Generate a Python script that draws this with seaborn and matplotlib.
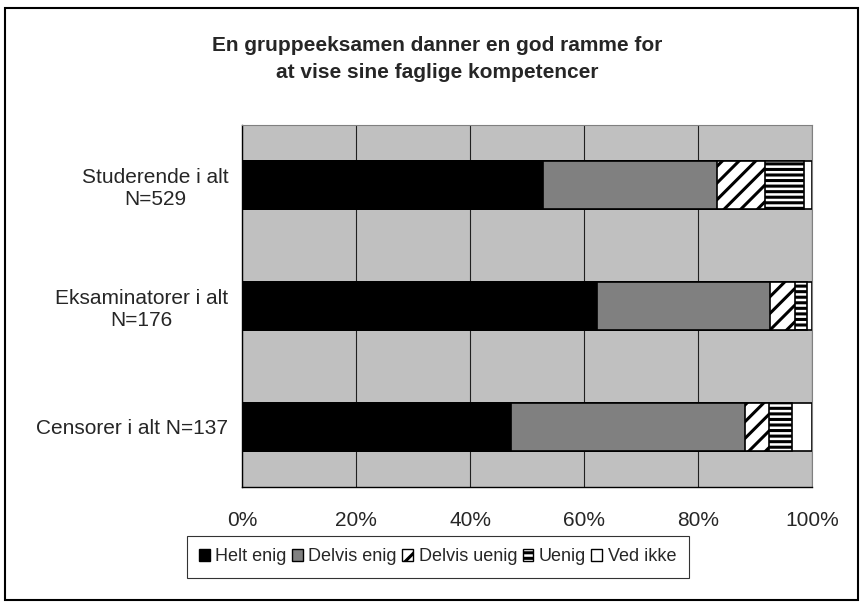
import numpy as np
import pandas as pd
import matplotlib
matplotlib.use('Agg')
import matplotlib.pyplot as plt
from matplotlib.patches import Patch, Rectangle
import seaborn as sns

groups = ['Studerende i alt\nN=529', 'Eksaminatorer i alt\nN=176', 'Censorer i alt N=137']
answers = ['Helt enig', 'Delvis enig', 'Delvis uenig', 'Uenig', 'Ved ikke']
helt_enig = [52.8, 62.2, 47.2]
delvis_enig = [30.6, 30.4, 41.1]
delvis_uenig = [8.4, 4.5, 4.2]
uenig = [6.8, 2.0, 4.0]
ved_ikke = [1.4, 0.9, 3.5]
xticks = [0, 20, 40, 60, 80, 100]

colors = ['black', '#808080', 'white', 'white', 'white']
hatches = ['', '', '//', '---', '']

sns.set_style('white')
plt.rcParams['font.family'] = ['Liberation Sans', 'DejaVu Sans']
plt.rcParams['hatch.linewidth'] = 2.2
plt.rcParams['hatch.color'] = 'black'

df = pd.DataFrame({'group': groups, 'Helt enig': helt_enig, 'Delvis enig': delvis_enig,
                   'Delvis uenig': delvis_uenig, 'Uenig': uenig, 'Ved ikke': ved_ikke})
cum = df[answers].cumsum(axis=1)

fig = plt.figure(figsize=(8.65, 6.08), dpi=100)
ax = fig.add_axes([0.2798, 0.199, 0.6589, 0.5954])
ax.set_facecolor('#C0C0C0')

# draw cumulative totals from the back so each segment shows
for i in range(len(answers) - 1, -1, -1):
    sns.barplot(x=cum[answers[i]], y=df['group'], orient='h', ax=ax, color=colors[i],
                saturation=1, width=0.4, edgecolor='black', linewidth=1.2,
                hatch=hatches[i], zorder=3)

ax.set_xlim(0, 100)
ax.set_ylim(2.5, -0.5)
ax.set_xticks(xticks)
ax.set_xticklabels([f'{v}%' for v in xticks], fontsize=15)
ax.set_xlabel('')
ax.set_ylabel('')
ax.tick_params(axis='y', length=0, labelsize=15, pad=10)
ax.set_yticks([-0.5, 0.5, 1.5, 2.5], minor=True)
ax.tick_params(axis='y', which='minor', length=5, width=1, color='black', direction='out')
ax.tick_params(axis='x', length=5, width=1, color='black', direction='out', pad=12)
for lab in ax.get_yticklabels():
    lab.set_multialignment('center')
ax.xaxis.grid(True, color='#202020', linewidth=0.8, zorder=0)
ax.set_axisbelow(True)
for s in ['top', 'right']:
    ax.spines[s].set_color('#808080')
for s in ['left', 'bottom']:
    ax.spines[s].set_color('black')
    ax.spines[s].set_linewidth(1)

fig.text(0.505, 0.903, 'En gruppeeksamen danner en god ramme for\nat vise sine faglige kompetencer',
         ha='center', va='center', fontsize=15, fontweight='bold', linespacing=1.5)

handles = [Patch(facecolor=colors[i], edgecolor='black', hatch=hatches[i], label=answers[i])
           for i in range(len(answers))]
leg = fig.legend(handles=handles, loc='center', bbox_to_anchor=(0.506, 0.084), ncol=5,
                 fontsize=13, frameon=True, fancybox=False, edgecolor='black',
                 handlelength=0.6, handleheight=0.6, handletextpad=0.3, columnspacing=0.3,
                 borderpad=0.7, borderaxespad=0)
leg.get_frame().set_linewidth(0.8)

fig.patches.append(Rectangle((0.006, 0.013), 0.986, 0.974, transform=fig.transFigure,
                             fill=False, edgecolor='black', linewidth=1.5))

fig.savefig('out.png', dpi=100)
